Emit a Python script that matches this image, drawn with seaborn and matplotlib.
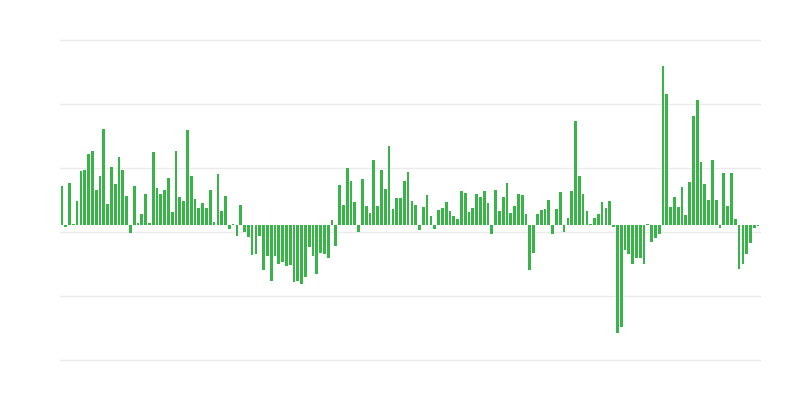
import matplotlib
matplotlib.use("Agg")
import matplotlib.pyplot as plt
import numpy as np
import pandas as pd
import seaborn as sns

# bar heights, one per period (gridline spacing = 1 unit)
values_px = [
    39.3, -2.3, 41.7, 1.3, 24.3, 53.7, 55.3, 71.3, 74, 35.3,
    49, 96, 21, 58, 41, 68.3, 55.3, 29, -8.3, 39,
    2, 10.7, 31, 2, 73.3, 37, 31, 35.3, 47.3, 13,
    73.7, 27.5, 23.7, 95, 48.5, 25.7, 16.7, 21.7, 16.7, 35.3,
    3, 51, 14, 28.7, -3.7, 1.3, -11, 19.7, -7, -12,
    -30.3, -29, -10.7, -45, -31, -56, -31, -39, -37, -41.3,
    -40, -56.7, -56, -59, -51.7, -22, -31, -48.7, -28, -29,
    -33, 4.7, -20.7, 39.7, 19.7, 56.7, 43.7, 23, -6.7, 45.7,
    18.7, 11.7, 64.7, 18.7, 54.7, 35.7, 79, 15.7, 26.7, 26.7,
    43.7, 53, 24.3, 19.5, -4.8, 17.7, 29.7, 9, -4, 15,
    17, 23, 14, 9, 6, 34, 31.7, 13, 17, 31,
    28, 34, 22, -9, 35.3, 14, 28, 42, 12, 19,
    31, 30, 11, -45, -28, 10.7, 15, 16, 25, -9,
    16, 32.7, -7, 7, 33.7, 103.7, 49, 30.7, 13.7, 1,
    7, 10.7, 22.7, 17, 23.7, -2, -108, -102, -25, -29,
    -39, -33, -33, -39, 1, -17, -13, -9, 159, 131,
    18, 28, 18, 38, 10, 43, 108.7, 125, 63, 41,
    25, 65, 25, -3, 52, 19, 52, 6, -44, -39,
    -29, -18, -3, -1,
]
values = [round(v / 64, 3) for v in values_px]
periods = list(range(len(values)))

grid_offset = -0.11
grid_levels = [grid_offset + k for k in range(-2, 4)]

df = pd.DataFrame({"period": periods, "value": values})

fig = plt.figure(figsize=(8, 4), dpi=100)
ax = fig.add_axes([0.075, 0.1, 0.875, 0.8])

sns.barplot(
    data=df,
    x="period",
    y="value",
    color="#38b449",
    saturation=1,
    width=0.72,
    linewidth=0,
    ax=ax
)

ax.set_xlim(-0.5, len(values) - 0.5)
ax.set_ylim(grid_levels[0], grid_levels[-1])
ax.set_yticks(grid_levels)
ax.set_xticks([])
ax.tick_params(axis="y", length=0, labelleft=False)
ax.grid(axis="y", color="#ebebeb", linewidth=1)
for line in ax.get_ygridlines():
    line.set_clip_on(False)
ax.set_axisbelow(True)
ax.set_xlabel("")
ax.set_ylabel("")
sns.despine(ax=ax, left=True, bottom=True)

fig.savefig("out.png", dpi=100)
